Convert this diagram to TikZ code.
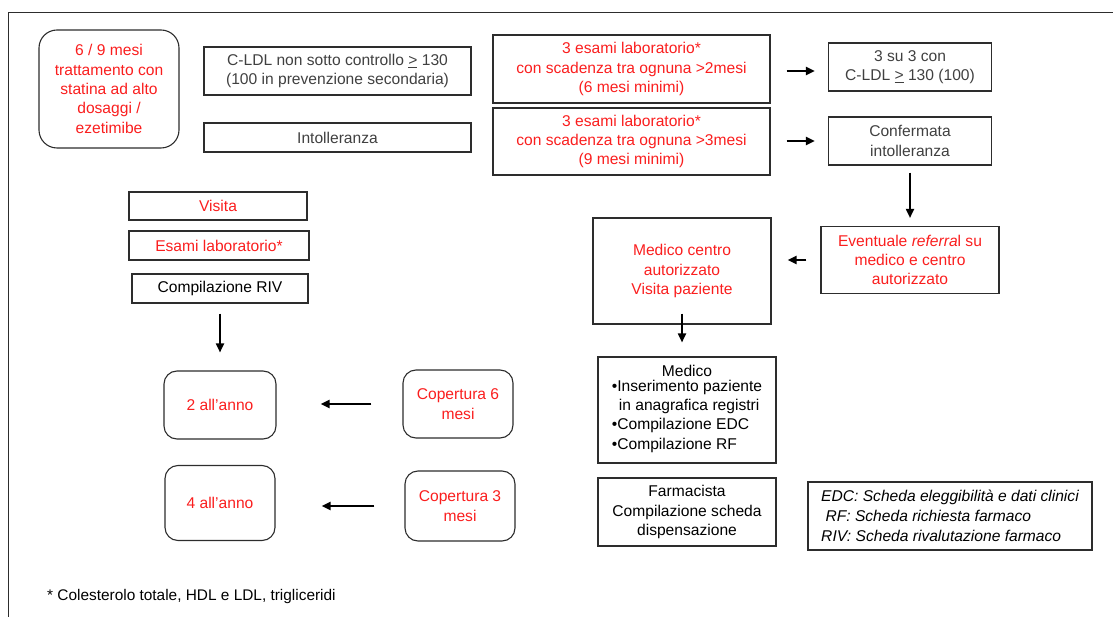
\documentclass[tikz,border=0pt]{standalone}
\usepackage{fontspec}
\setmainfont{Liberation Sans}
\usetikzlibrary{arrows.meta}
\definecolor{rosso}{RGB}{250,30,30}
\definecolor{grigio}{RGB}{64,64,64}
\definecolor{bordo}{RGB}{45,45,45}
\tikzset{
  box/.style={draw=bordo, line width=1.1pt, inner sep=0pt, align=center, font=\fontsize{15.6}{19.3}\selectfont},
  rbox/.style={box, rounded corners=13pt},
  freccia/.style={line width=2.5pt, -{Triangle[length=9pt,width=8pt]}},
  giu/.style={line width=1.8pt, -{Triangle[length=9pt,width=8pt]}}
}

\begin{document}
\begin{tikzpicture}[x=1pt,y=-1pt]
            \useasboundingbox (0,0) rectangle (1113,617);
            \draw[line width=1.5pt, color=bordo] (1113,12.5) -- (8.5,12.5) -- (8.5,617);

            \node[rbox, text=rosso, minimum width=140pt, minimum height=118pt, rounded corners=18pt] (terapia) at (109,89) {6 / 9 mesi\\trattamento con\\statina ad alto\\dosaggi /\\ezetimibe};
            \node[box, text=grigio, minimum width=267pt, minimum height=48pt] (cldl) at (337.5,71) {C-LDL non sotto controllo \underline{>} 130\\(100 in prevenzione secondaria)};
            \node[box, text=grigio, minimum width=267pt, minimum height=29pt] (intoll) at (337.5,137.5) {Intolleranza};

            \node[box, text=rosso, minimum width=277pt, minimum height=68pt] (esami2) at (631.5,69) {3 esami laboratorio*\\con scadenza tra ognuna >2mesi\\(6 mesi minimi)};
            \node[box, text=rosso, minimum width=277pt, minimum height=67pt] (esami3) at (631.5,141.5) {3 esami laboratorio*\\con scadenza tra ognuna >3mesi\\(9 mesi minimi)};
            \node[box, text=grigio, minimum width=163pt, minimum height=48pt] (tresu) at (910,67) {3 su 3 con\\C-LDL \underline{>} 130 (100)};
            \node[box, text=grigio, minimum width=163pt, minimum height=48pt] (confint) at (910,141) {Confermata\\intolleranza};
            \node[box, text=rosso, minimum width=178pt, minimum height=67pt] (referral) at (910,260) {Eventuale \textit{referra}l su\\medico e centro\\autorizzato};
            \node[box, text=rosso, minimum width=178pt, minimum height=106pt] (centro) at (682,271) {Medico centro\\autorizzato\\Visita paziente};
            \node[box, minimum width=178pt, minimum height=106pt] (medico) at (687,410) {Medico\\\begin{tabular}{@{}l@{}}\textbullet Inserimento paziente\\\hspace{7pt}in anagrafica registri\\\textbullet Compilazione EDC\\\textbullet Compilazione RF\end{tabular}\hspace{6pt}};
            \node[box, minimum width=178pt, minimum height=68pt] (farmacista) at (687,512) {Farmacista\\Compilazione scheda\\dispensazione};
            \node[box, align=left, minimum width=284pt, minimum height=68pt, font=\fontsize{15.6}{19.8}\selectfont\itshape] (legenda) at (950,516) {EDC: Scheda eleggibilità e dati clinici\\\ RF: Scheda richiesta farmaco\\RIV: Scheda rivalutazione farmaco};

            \node[box, text=rosso, minimum width=178pt, minimum height=28pt] (visita) at (218,206) {Visita};
            \node[box, text=rosso, minimum width=180pt, minimum height=29pt] (esamilab) at (219,245.5) {Esami laboratorio*};
            \node[box, minimum width=176pt, minimum height=29pt] (riv) at (220,288.5) {Compilazione RIV};
            \node[rbox, text=rosso, minimum width=112pt, minimum height=68pt] (due) at (220,405) {2 all’anno};
            \node[rbox, text=rosso, minimum width=110pt, minimum height=68pt] (cop6) at (458,404) {Copertura 6\\mesi};
            \node[rbox, text=rosso, minimum width=110pt, minimum height=75pt] (quattro) at (220,503) {4 all’anno};
            \node[rbox, text=rosso, minimum width=110pt, minimum height=70pt] (cop3) at (460,506) {Copertura 3\\mesi};
            \node[anchor=west, inner sep=0pt, font=\fontsize{15.4}{19}\selectfont] (nota) at (47,597) {* Colesterolo totale, HDL e LDL, trigliceridi};

            \draw[freccia, shorten <=16pt, shorten >=13pt] ([yshift=-4pt]tresu.west -| esami2.east) -- ([yshift=-4pt]tresu.west);
            \draw[freccia, shorten <=16pt, shorten >=13pt] (confint.west -| esami3.east) -- (confint.west);
            \draw[giu, shorten <=7pt, shorten >=8pt] (confint.south) -- (referral.north);
            \draw[freccia, shorten <=14pt, shorten >=16pt] (referral.west) -- (referral.west -| centro.east);
            \draw[giu, shorten <=-11pt, shorten >=14pt] (centro.south) -- (centro.south |- medico.north);
            \draw[giu, shorten <=10pt, shorten >=18pt] (riv.south) -- (due.north);
            \draw[freccia, shorten <=31pt, shorten >=44pt] (cop6.west) -- (cop6.west -| due.east);
            \draw[freccia, shorten <=30pt, shorten >=46pt] (cop3.west) -- (cop3.west -| quattro.east);
        \end{tikzpicture}
\end{document}
